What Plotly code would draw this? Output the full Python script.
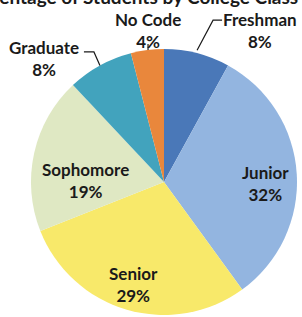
import math
import plotly.graph_objects as go

# ---- data ----
categories = ["Freshman", "Junior", "Senior", "Sophomore", "Graduate", "No Code"]
percent = [8, 32, 29, 19, 8, 4]
title_text = "Percentage of Students by College Class"

# ---- style ----
colors = ["#4a78b8", "#93b5e0", "#f8e96a", "#dfe8c3", "#42a3bd", "#e9873c"]
W, H = 302, 317
pie_box = dict(left=30, right=298, top=49, bottom=315)  # pixel box for the pie
# label placement: (radius fraction, dx, dy) relative to slice mid-angle point
label_style = {
    "Freshman": (1.0, 63, -23),
    "Junior": (0.76, 1, 8),
    "Senior": (0.76, -2, 5),
    "Sophomore": (0.7, 12, 19),
    "Graduate": (1.0, -56, -7),
    "No Code": (1.0, 1, -20),
}
# leader-line points relative to the slice edge point
leader_style = {
    "Freshman": [(0, -3), (16, -33), (25, -33)],
    "Graduate": [(0, 0), (-6, -13.5), (-16, -13.5)],
    "No Code": [(0.7, -6), (0.7, 0)],
}
FONT = "Lato"
FS = 17


def X(px):
    return px / W


def Y(py):
    return 1 - py / H


cx = (pie_box["left"] + pie_box["right"]) / 2
cy = (pie_box["top"] + pie_box["bottom"]) / 2
r = min(pie_box["right"] - pie_box["left"], pie_box["bottom"] - pie_box["top"]) / 2

total = sum(percent)
mids = []
acc = 0
for v in percent:
    mids.append((acc + v / 2) / total * 2 * math.pi)
    acc += v


def polar(theta, f):
    return cx + f * r * math.sin(theta), cy - f * r * math.cos(theta)


fig = go.Figure(
    go.Pie(
        labels=categories,
        values=percent,
        sort=False,
        direction="clockwise",
        rotation=0,
        marker=dict(colors=colors, line=dict(width=0)),
        textinfo="none",
        hoverinfo="label+percent",
        showlegend=False,
        domain=dict(
            x=[X(pie_box["left"]), X(pie_box["right"])],
            y=[Y(pie_box["bottom"]), Y(pie_box["top"])],
        ),
    )
)

annotations = []
shapes = []
for cat, v, th in zip(categories, percent, mids):
    f, dx, dy = label_style[cat]
    ax_, ay_ = polar(th, f)
    annotations.append(
        dict(
            x=X(ax_ + dx), y=Y(ay_ + dy), xref="paper", yref="paper",
            text=f"{cat}<br>{round(v / total * 100)}%",
            showarrow=False, xanchor="center", yanchor="middle",
            font=dict(family=FONT, size=FS, color="#1a1a1a", weight="bold"),
        )
    )
    if cat in leader_style:
        ex, ey = polar(th, 1.0)
        pts = [(ex + a, ey + b) for a, b in leader_style[cat]]
        path = "M " + " L ".join(f"{X(px):.5f},{Y(py):.5f}" for px, py in pts)
        shapes.append(
            dict(type="path", xref="paper", yref="paper", path=path,
                 line=dict(color="#1a1a1a", width=1.2))
        )

# title, cropped at the top edge like the reference
annotations.append(
    dict(
        x=X(130), y=Y(10), xref="paper", yref="paper", text=title_text,
        showarrow=False, xanchor="center", yanchor="bottom",
        font=dict(family=FONT, size=19, color="#1a1a1a", weight="bold"),
    )
)

fig.update_layout(
    width=W, height=H,
    margin=dict(l=0, r=0, t=0, b=0),
    paper_bgcolor="white", plot_bgcolor="white",
    annotations=annotations, shapes=shapes,
)

fig.write_html(
    "out.html",
    config={"displayModeBar": False},
    post_script="document.body.style.margin='0px';",
)
